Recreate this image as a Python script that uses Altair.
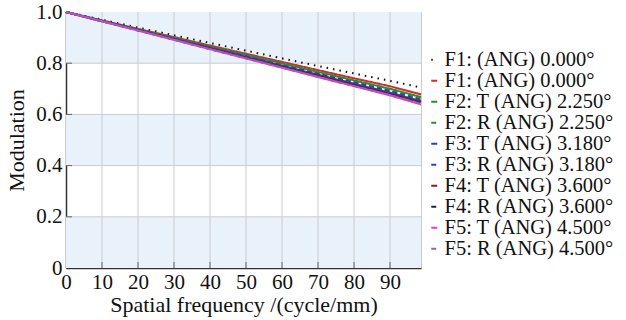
import altair as alt
import pandas as pd

freq = [0, 10, 20, 30, 40, 50, 60, 70, 80, 90, 98.6]

series_labels = [
    "F1: (ANG) 0.000°",
    "F1: (ANG) 0.000°",
    "F2: T (ANG) 2.250°",
    "F2: R (ANG) 2.250°",
    "F3: T (ANG) 3.180°",
    "F3: R (ANG) 3.180°",
    "F4: T (ANG) 3.600°",
    "F4: R (ANG) 3.600°",
    "F5: T (ANG) 4.500°",
    "F5: R (ANG) 4.500°",
]

dl  = [1.0, 0.970, 0.939, 0.909, 0.879, 0.849, 0.819, 0.789, 0.760, 0.731, 0.705]
f1  = [1.0, 0.967, 0.934, 0.902, 0.869, 0.837, 0.805, 0.773, 0.741, 0.710, 0.678]
f2t = [1.0, 0.966, 0.932, 0.899, 0.865, 0.832, 0.799, 0.766, 0.733, 0.700, 0.668]
f2r = [1.0, 0.966, 0.931, 0.897, 0.863, 0.829, 0.795, 0.761, 0.728, 0.694, 0.662]
f3t = [1.0, 0.965, 0.930, 0.895, 0.860, 0.825, 0.790, 0.755, 0.720, 0.685, 0.652]
f3r = [1.0, 0.965, 0.930, 0.896, 0.861, 0.827, 0.792, 0.758, 0.724, 0.690, 0.656]
f4t = [1.0, 0.964, 0.929, 0.893, 0.858, 0.822, 0.787, 0.752, 0.716, 0.681, 0.648]
f4r = [1.0, 0.964, 0.928, 0.892, 0.856, 0.820, 0.785, 0.749, 0.713, 0.678, 0.644]
f5t = [1.0, 0.964, 0.927, 0.891, 0.855, 0.818, 0.782, 0.746, 0.710, 0.674, 0.639]
f5r = [1.0, 0.964, 0.928, 0.892, 0.855, 0.819, 0.783, 0.747, 0.711, 0.676, 0.641]

all_values = [dl, f1, f2t, f2r, f3t, f3r, f4t, f4r, f5t, f5r]

colors = ["#111111", "#d42a2a", "#2e8b2e", "#2e8b2e", "#2a3fc4", "#2a3fc4",
          "#8b1f1f", "#222233", "#d04ac8", "#9a5ac8"]
dashes = [[1.5, 5], [1, 0], [1, 0], [5, 3], [1, 0], [5, 3],
          [1, 0], [5, 3], [1, 0], [5, 3]]

band_lo = [0.0, 0.4, 0.8]
band_hi = [0.2, 0.6, 1.0]
x_ticks = [0, 10, 20, 30, 40, 50, 60, 70, 80, 90]
y_ticks = [0, 0.2, 0.4, 0.6, 0.8, 1.0]
x_grid = [10, 20, 30, 40, 50, 60, 70, 80, 90]
y_grid = [0.2, 0.4, 0.6, 0.8]

rows = []
keys = []
for i, (lab, vals) in enumerate(zip(series_labels, all_values)):
    key = f"{i:02d} {lab}"
    keys.append(key)
    for x, y in zip(freq, vals):
        rows.append({"freq": x, "mtf": y, "series": key})
df = pd.DataFrame(rows)
bands = pd.DataFrame({"lo": band_lo, "hi": band_hi})
xg = pd.DataFrame({"freq": x_grid, "mtf": [0] * len(x_grid)})
yg = pd.DataFrame({"mtf": y_grid, "freq": [0] * len(y_grid)})

FONT = "Times New Roman, Liberation Serif, Noto Serif, DejaVu Serif, serif"
FS = 21
GRID = "#c9ccd0"
AXC = "#333333"
xscale = alt.Scale(domain=[0, 98.6], nice=False, zero=False)
yscale = alt.Scale(domain=[0, 1], nice=False)

x_axis = alt.Axis(values=x_ticks, title="Spatial frequency /(cycle/mm)", grid=False,
                  domainColor=AXC, domainWidth=1.5, tickSize=0,
                  labelFont=FONT, labelFontSize=FS, labelColor="#111111",
                  labelPadding=3, labelFlush=False, titleFont=FONT,
                  titleFontSize=FS + 1, titleFontWeight="normal",
                  titleColor="#111111", titlePadding=2)
y_axis = alt.Axis(values=y_ticks,
                  labelExpr="datum.value == 0 ? '0' : format(datum.value, '.1f')",
                  title="Modulation", grid=False, domainColor=AXC,
                  domainWidth=1.5, tickSize=0, labelFont=FONT, labelFontSize=FS,
                  labelColor="#111111", labelPadding=4, titleFont=FONT,
                  titleFontSize=FS + 1, titleFontWeight="normal",
                  titleColor="#111111", titlePadding=7)

X = lambda: alt.X("freq:Q", scale=xscale, axis=x_axis, title="Spatial frequency /(cycle/mm)")
Y = lambda: alt.Y("mtf:Q", scale=yscale, axis=y_axis, title="Modulation")

band_layer = alt.Chart(bands).mark_rect(color="#e9f1fa").encode(
    y=alt.Y("lo:Q", scale=yscale, axis=y_axis, title="Modulation"),
    y2="hi:Q",
    x=alt.value(0),
    x2=alt.value(355),
)

vgrid = alt.Chart(xg).mark_rule(color=GRID, strokeWidth=1).encode(x=X())
hgrid = alt.Chart(yg).mark_rule(color=GRID, strokeWidth=1).encode(y=Y())

xtick_layer = alt.Chart(xg).mark_tick(orient="vertical", size=6, thickness=1,
                                       color=AXC, yOffset=-3).encode(x=X(), y=Y())
ytick_layer = alt.Chart(yg).mark_tick(orient="horizontal", size=6, thickness=1,
                                       color=AXC, xOffset=3).encode(x=X(), y=Y())

leg = dict(title=None, orient="none", legendX=358, legendY=37.5,
           symbolType="stroke", symbolSize=36, symbolStrokeWidth=2,
           labelFont=FONT, labelFontSize=20.5, labelColor="#111111",
           labelExpr="substring(datum.label, 3)",
           rowPadding=0, labelOffset=0, padding=0, labelLimit=300)

lines = alt.Chart(df).mark_line(strokeWidth=2).encode(
    x=X(),
    y=Y(),
    color=alt.Color("series:N", scale=alt.Scale(domain=keys, range=colors),
                    legend=alt.Legend(**leg)),
    strokeDash=alt.StrokeDash("series:N", scale=alt.Scale(domain=keys, range=dashes),
                              legend=alt.Legend(**leg)),
)

chart = alt.layer(band_layer, vgrid, hgrid, xtick_layer, ytick_layer, lines).properties(
    width=355, height=256,
    autosize=alt.AutoSizeParams(type="none"),
    padding={"left": 66, "top": 12, "right": 205, "bottom": 52},
    background="white",
).configure_view(stroke=GRID, strokeWidth=1)

chart.save("out.html", embed_options={"renderer": "svg", "actions": False})
